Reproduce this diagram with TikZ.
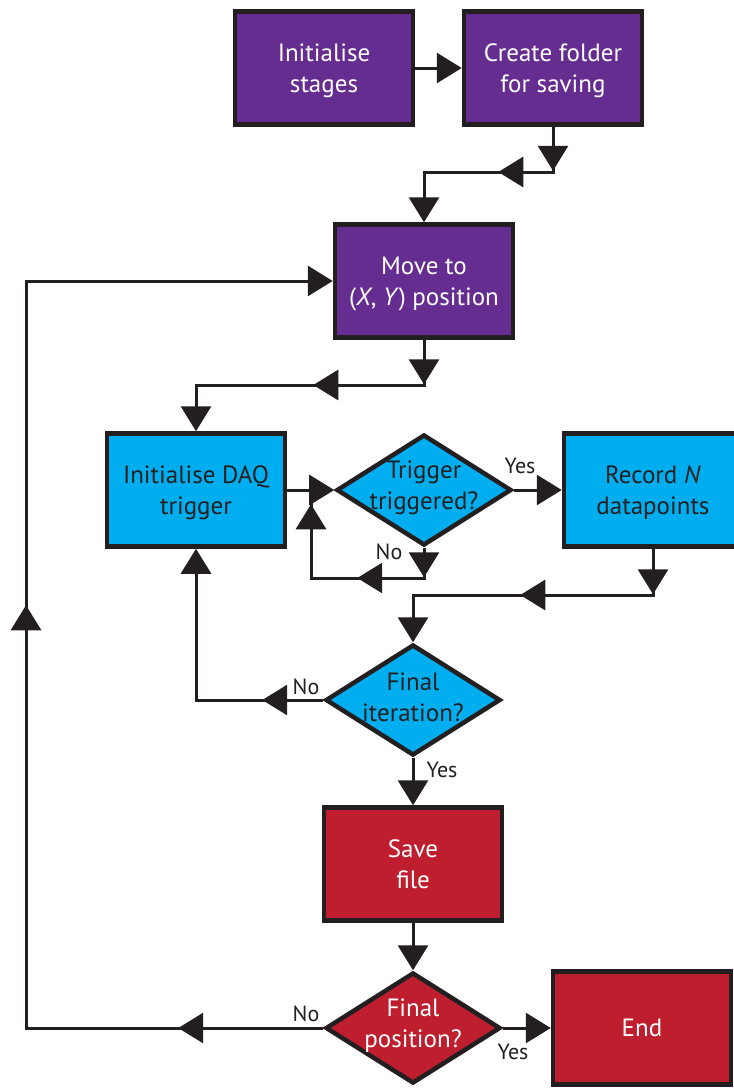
\documentclass[tikz,border=0pt]{standalone}
\usepackage{fontspec}
\setmainfont{PT Sans}
\usetikzlibrary{shapes.geometric,arrows.meta,decorations.markings}
\definecolor{myblack}{HTML}{231F20}
\definecolor{mypurple}{HTML}{662D91}
\definecolor{myblue}{HTML}{00AEEF}
\definecolor{myred}{HTML}{BE1E2D}

\begin{document}
\begin{tikzpicture}[x=1pt,y=-1pt,>={Triangle[length=25pt,width=30pt]},
  FlowStyle/.style={draw=myblack,line width=3pt},
  HeadAt/.style={postaction={decorate,decoration={markings,mark=at position #1 with {\arrow{>}}}}},
  AnswerStyle/.style={font=\fontsize{22}{26}\selectfont,text=myblack}]
\clip (0,0) rectangle (734,1088);
\tikzset{StepStyle/.style={rectangle,draw=myblack,line width=4.5pt,minimum width=178pt,minimum height=113pt,align=center,text depth=-4pt,font=\fontsize{25}{31}\selectfont,fill=mypurple,text=white}}
\node[StepStyle] (init) at (324,68) {Initialise\\stages};
\node[StepStyle] (folder) at (553,68) {Create folder\\for saving};
\node[StepStyle] (move) at (424,281) {Move to\\(\textit{X}, \textit{Y}) position};
\tikzset{StepStyle/.append style={fill=myblue,text=myblack}}
\tikzset{TestStyle/.style={diamond,draw=myblack,line width=4.5pt,minimum width=175pt,minimum height=111pt,inner sep=0pt,fill=myblue}}
\tikzset{TestText/.style={align=center,yshift=2.5pt,font=\fontsize{25}{31}\selectfont,text=myblack}}
\node[StepStyle] (daq) at (196,490) {Initialise DAQ\\trigger};
\node[TestStyle,label={[TestText]center:Trigger\\triggered?}] (trig) at (424,490) {};
\node[StepStyle] (record) at (653,490) {Record \textit{N}\\datapoints};
\node[TestStyle,label={[TestText]center:Final\\iteration?}] (iter) at (413,700) {};
\tikzset{StepStyle/.append style={fill=myred,text=white}}
\tikzset{TestStyle/.append style={fill=myred}}
\tikzset{TestText/.append style={text=white}}
\node[StepStyle] (save) at (413,864) {Save\\file};
\node[TestStyle,label={[TestText]center:Final\\position?}] (pos) at (413,1028) {};
\node[StepStyle] (end) at (642,1028) {End};
\node[AnswerStyle] (yes1) at (520,466) {Yes};
\node[AnswerStyle] (no1) at (389,552) {No};
\node[AnswerStyle] (no2) at (306,687) {No};
\node[AnswerStyle] (yes2) at (442,770) {Yes};
\node[AnswerStyle] (no3) at (306,1014) {No};
\node[AnswerStyle] (yes3) at (513,1052) {Yes};
\coordinate (a1) at (553,172);
\coordinate (a2) at (424,172);
\coordinate (b1) at (424,385);
\coordinate (b2) at (196,385);
\coordinate (c1) at (424,578);
\coordinate (c2) at (311,578);
\coordinate (c3) at (311,490);
\coordinate (d1) at (653,595);
\coordinate (d2) at (413,595);
\coordinate (e1) at (196,700);
\coordinate (f1) at (26,1028);
\coordinate (f2) at (26,281);
\draw[FlowStyle,->] (init) -- (folder);
\draw[FlowStyle,->,HeadAt=44pt,HeadAt=100pt] (folder) -- (a1) -- (a2) -- (move);
\draw[FlowStyle,->,HeadAt=44.5pt,HeadAt=156pt] (move) -- (b1) -- (b2) -- (daq);
\draw[FlowStyle,->] (daq) -- (trig);
\draw[FlowStyle,->] (trig) -- (record);
\draw[FlowStyle,HeadAt=29.5pt,HeadAt=97pt,HeadAt=217pt] (trig) -- (c1) -- (c2) -- (c3);
\draw[FlowStyle,->,HeadAt=45.5pt,HeadAt=179pt] (record) -- (d1) -- (d2) -- (iter);
\draw[FlowStyle,->,HeadAt=61pt] (iter) -- (e1) -- (daq);
\draw[FlowStyle,->] (iter) -- (save);
\draw[FlowStyle,->] (save) -- (pos);
\draw[FlowStyle,->] (pos) -- (end);
\draw[FlowStyle,->,HeadAt=145pt,HeadAt=720pt] (pos) -- (f1) -- (f2) -- (move);
\end{tikzpicture}
\end{document}
